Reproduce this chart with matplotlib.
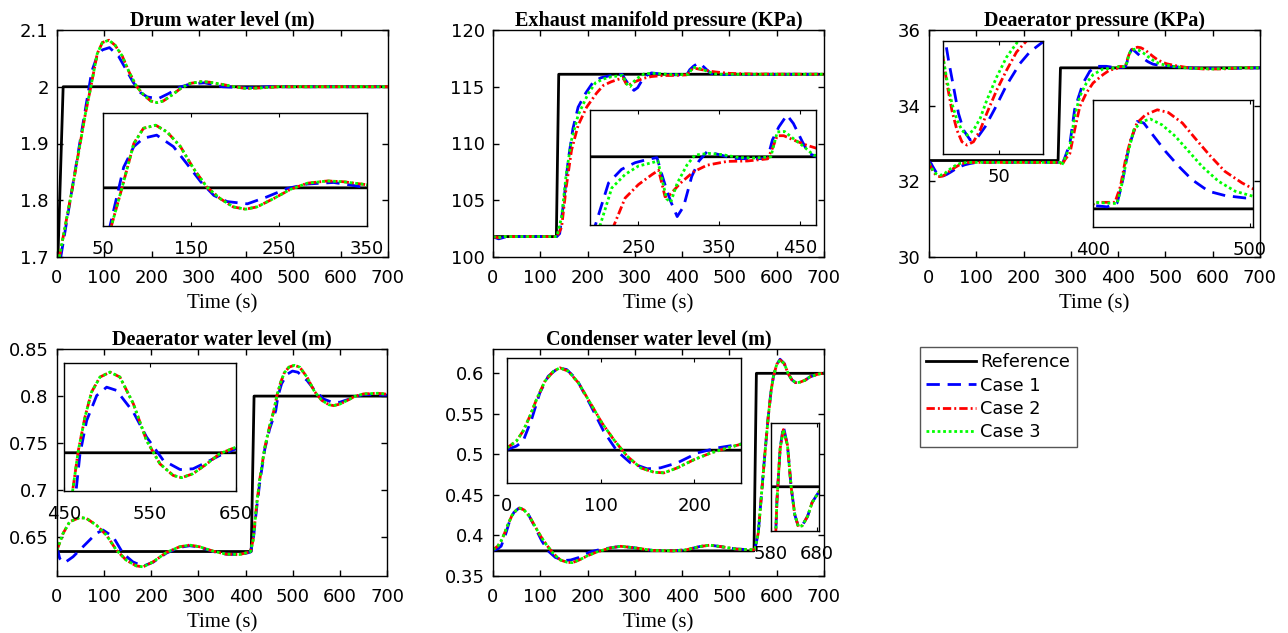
import matplotlib
matplotlib.use("Agg")
import matplotlib.pyplot as plt
from matplotlib.ticker import FuncFormatter

W, H = 1288, 633

# ---------------- data ----------------
# Drum water level (m)
drum_ref_t = [0, 2, 13, 700]
drum_ref = [1.7, 1.7, 2.0, 2.0]
drum_c1_t = [8, 30, 58, 73.5, 85, 96, 111, 130, 145, 161, 176, 191, 214, 236,
             259, 282, 312, 335, 350, 400, 450, 700]
drum_c1 = [1.70, 1.81, 1.95, 2.027, 2.054, 2.065, 2.069, 2.054, 2.032, 2.008,
           1.990, 1.982, 1.979, 1.988, 1.999, 2.005, 2.007, 2.003, 2.0, 1.998,
           2.0, 2.0]
drum_c2_t = [5, 30, 59.5, 71.6, 85, 96, 110, 123, 138, 153, 168, 183, 198, 212,
             225, 244, 263, 282, 305, 323, 350, 375, 400, 430, 470, 700]
drum_c2 = [1.70, 1.81, 1.95, 2.0, 2.058, 2.078, 2.082, 2.073, 2.054, 2.025,
           2.001, 1.986, 1.975, 1.972, 1.975, 1.986, 1.998, 2.006, 2.009,
           2.008, 2.004, 2.0, 1.997, 1.998, 2.0, 2.0]
drum_c3_t = drum_c2_t  # cases 2 and 3 lie on top of each other here
drum_c3 = drum_c2

# Exhaust manifold pressure (KPa)
exh_ref_t = [0, 134, 139, 700]
exh_ref = [101.8, 101.8, 116.1, 116.1]
exh_c1_t = [0, 5, 12, 25, 40, 135, 141, 150, 159, 169, 180, 196, 213, 229, 246,
            262, 273, 279, 285, 290, 298, 306, 316, 325, 335, 350, 368, 390,
            410, 416, 424, 434, 442, 453, 461, 471, 490, 520, 700]
exh_c1 = [101.8, 101.7, 101.6, 101.75, 101.8, 101.8, 102.06, 105.0, 108.5,
          111.3, 113.2, 114.44, 115.48, 115.8, 115.96, 116.04, 116.08, 115.68,
          115.31, 115.04, 114.68, 114.92, 115.63, 116.0, 116.22, 116.15,
          116.06, 116.05, 116.06, 116.5, 116.81, 117.09, 116.89, 116.46,
          116.18, 116.1, 116.08, 116.09, 116.1]
exh_c2_t = [0, 10, 25, 135, 145, 155, 166, 180, 198, 219, 233.5, 250, 267, 275,
            279, 283, 289, 301.8, 318, 335, 360, 385, 410, 416, 422, 430, 442,
            459, 471, 500, 550, 700]
exh_c2 = [101.8, 101.7, 101.8, 101.8, 102.6, 106.2, 109.4, 111.6, 113.2,
          114.44, 115.12, 115.44, 115.68, 115.78, 115.47, 115.15, 115.2,
          115.47, 115.74, 115.9, 115.99, 116.0, 116.05, 116.3, 116.6, 116.6,
          116.5, 116.37, 116.3, 116.18, 116.12, 116.1]
exh_c3_t = [0, 10, 25, 135, 145, 155, 166, 180, 198, 202, 217, 233.5, 250, 267,
            274, 280, 285, 290, 298, 310, 320, 337, 354, 375, 395, 414, 422,
            431, 442, 455, 467, 480, 520, 700]
exh_c3 = [101.8, 101.7, 101.8, 101.8, 103.5, 107.35, 110.3, 112.5, 114.1,
          114.44, 115.36, 115.68, 115.88, 115.96, 116.0, 115.5, 115.1, 115.02,
          115.47, 115.9, 116.14, 116.18, 116.15, 116.08, 116.07, 116.1,
          116.69, 116.7, 116.53, 116.34, 116.14, 116.1, 116.1, 116.1]

# Deaerator pressure (KPa)
dp_ref_t = [0, 273, 278, 700]
dp_ref = [32.55, 32.55, 35.0, 35.0]
dp_c1_t = [0, 4.4, 7.1, 11.3, 15.5, 19.8, 25.4, 31, 38, 46.4, 56.2, 67.4, 75.8,
           85.6, 100, 278, 281, 288, 298, 308, 315.5, 326, 340, 354, 375, 397,
           401, 409, 415.4, 418.6, 422.9, 428.2, 432.4, 438.8, 446.2, 454.7,
           463.1, 473.7, 484.3, 497, 503, 520, 560, 620, 700]
dp_c1 = [32.52, 32.474, 32.409, 32.32, 32.231, 32.175, 32.142, 32.147, 32.186,
         32.248, 32.326, 32.398, 32.437, 32.467, 32.5, 32.5, 32.43, 32.65,
         33.0, 33.9, 34.2, 34.6, 34.91, 35.04, 35.04, 35.0, 35.018, 35.011,
         35.033, 35.143, 35.344, 35.482, 35.473, 35.4, 35.317, 35.234, 35.161,
         35.097, 35.073, 35.06, 35.06, 35.03, 34.99, 34.98, 35.0]
dp_c2_t = [0, 2.4, 5.8, 10, 14.2, 18.4, 22.6, 28.2, 33.8, 39.4, 47.8, 56.2, 64.6,
           73, 85, 100, 278, 281, 288, 298, 308, 319, 333, 347, 368, 382, 397,
           401, 414, 417.5, 420.7, 424, 428, 433.4, 441, 448, 457, 465, 474,
           484, 495, 503, 520, 550, 580, 620, 660, 700]
dp_c2 = [32.48, 32.42, 32.33, 32.24, 32.175, 32.136, 32.125, 32.136, 32.175,
         32.231, 32.309, 32.376, 32.437, 32.474, 32.5, 32.5, 32.5, 32.43,
         32.58, 32.74, 33.36, 33.98, 34.34, 34.6, 34.82, 34.94, 34.98, 35.036,
         35.036, 35.124, 35.271, 35.381, 35.473, 35.518, 35.546, 35.531,
         35.473, 35.39, 35.299, 35.207, 35.143, 35.106, 35.06, 35.0, 34.97,
         34.97, 35.0, 35.0]
dp_c3_t = [0, 2.4, 5.8, 10, 14.2, 18.4, 22.6, 28.2, 33.8, 39.4, 47.8, 56.2, 66,
           80, 100, 278, 281, 288, 298, 308, 319, 333, 347, 368, 397, 401,
           415.4, 418.6, 421.8, 426, 431.3, 436.6, 444, 452.5, 461, 469.5, 480,
           490.7, 503.4, 520, 550, 600, 660, 700]
dp_c3 = [32.48, 32.42, 32.342, 32.264, 32.209, 32.175, 32.158, 32.175, 32.214,
         32.275, 32.353, 32.42, 32.474, 32.5, 32.5, 32.5, 32.43, 32.62, 32.92,
         33.72, 34.25, 34.6, 34.82, 34.97, 35.0, 35.036, 35.029, 35.143,
         35.289, 35.436, 35.482, 35.495, 35.463, 35.4, 35.317, 35.234, 35.152,
         35.097, 35.066, 35.03, 34.99, 34.97, 35.0, 35.0]

# Deaerator water level (m)
dl_ref_t = [0, 412, 418, 700]
dl_ref = [0.635, 0.635, 0.8, 0.8]
dl_c1_t = [0, 5.7, 16, 34, 55, 83.5, 97.6, 119, 140, 161, 182.5, 203.7, 232,
           260, 281.5, 302.7, 331, 359, 387.5, 410, 416, 423, 430, 440.6, 451,
           464, 468.6, 476.4, 488, 499.6, 511, 530.6, 546, 565.5, 585, 600, 616,
           631, 650, 670, 700]
dl_c1 = [0.64, 0.6276, 0.623, 0.6294, 0.640, 0.6543, 0.6578, 0.6507, 0.633,
         0.624, 0.6194, 0.6236, 0.6333, 0.6394, 0.6411, 0.6397, 0.635, 0.6322,
         0.6315, 0.6343, 0.6456, 0.679, 0.7077, 0.7432, 0.765, 0.7845, 0.7996,
         0.8131, 0.8232, 0.8266, 0.8253, 0.8165, 0.8064, 0.7969, 0.7932,
         0.7935, 0.7962, 0.7989, 0.8016, 0.8015, 0.801]
dl_c2_t = [0, 12.7, 27, 48, 62, 83.5, 104.7, 126, 147, 168, 182.5, 203.7, 232,
           260, 281.5, 302.7, 331, 359, 387.5, 410, 416, 423, 430, 440.6, 451,
           460, 466.7, 474.4, 482, 491.9, 503.5, 515, 530.6, 546, 561.6, 577,
           586.8, 600, 616, 631, 650, 680, 700]
dl_c2 = [0.6365, 0.654, 0.6667, 0.671, 0.6703, 0.663, 0.6525, 0.6365, 0.6258,
         0.6198, 0.6187, 0.624, 0.634, 0.640, 0.6418, 0.640, 0.6354, 0.6322,
         0.6318, 0.6347, 0.647, 0.6827, 0.7112, 0.745, 0.768, 0.7845, 0.801,
         0.8145, 0.8246, 0.8307, 0.8327, 0.8307, 0.8199, 0.805, 0.7955,
         0.7908, 0.7899, 0.7915, 0.7955, 0.7996, 0.8023, 0.803, 0.802]
dl_c3_t = dl_c2_t  # cases 2 and 3 coincide
dl_c3 = dl_c2

# Condenser water level (m)
cw_ref_t = [0, 552, 557, 700]
cw_ref = [0.381, 0.381, 0.6, 0.6]
cw_c1_t = [0, 10, 17.2, 26.2, 35.1, 44, 54.8, 63.8, 74.6, 88.9, 103.2, 117.6,
           131.9, 149.8, 164, 182, 203.6, 225, 251, 270, 296, 339, 381, 409,
           437.5, 459, 480, 515, 550, 554, 561, 568, 575, 582, 588, 593, 600,
           607, 616, 624, 632, 640, 648, 660, 670, 685, 700]
cw_c1 = [0.3814, 0.3836, 0.3868, 0.4006, 0.4177, 0.4283, 0.4337, 0.4326,
         0.4262, 0.4102, 0.3932, 0.3804, 0.3729, 0.3691, 0.3697, 0.3729,
         0.3793, 0.3825, 0.385, 0.3866, 0.385, 0.3815, 0.3811, 0.3823, 0.3864,
         0.388, 0.3864, 0.3832, 0.3823, 0.383, 0.403, 0.452, 0.501, 0.546,
         0.578, 0.596, 0.611, 0.6174, 0.612, 0.6, 0.592, 0.5885, 0.5888,
         0.5915, 0.5955, 0.5986, 0.6005]
cw_c2_t = [0, 10, 17.2, 24.4, 31.5, 40.5, 49.5, 56.6, 65.6, 76.3, 88.9, 101.4,
           114, 128.3, 142.7, 157, 167.7, 182, 200, 218, 235.8, 251, 270, 296,
           339, 381, 409, 437.5, 459, 480, 515, 550, 554, 561, 568, 575, 582,
           588, 593, 600, 607, 616, 624, 632, 640, 648, 660, 670, 685, 700]
cw_c2 = [0.3825, 0.3868, 0.3932, 0.4027, 0.4134, 0.4251, 0.4315, 0.4337,
         0.4315, 0.4241, 0.4113, 0.3985, 0.3878, 0.3772, 0.3697, 0.3669,
         0.3665, 0.3697, 0.375, 0.3793, 0.3825, 0.385, 0.3866, 0.385, 0.3815,
         0.3811, 0.3823, 0.3864, 0.388, 0.3864, 0.3832, 0.3823, 0.383, 0.403,
         0.452, 0.501, 0.546, 0.578, 0.596, 0.611, 0.6164, 0.612, 0.6, 0.592,
         0.5885, 0.5888, 0.5915, 0.5955, 0.5986, 0.6005]
cw_c3_t = cw_c2_t  # cases 2 and 3 coincide
cw_c3 = cw_c2

legend_labels = ["Reference", "Case 1", "Case 2", "Case 3"]

STYLES = [
    dict(color="black", lw=2.0, ls="-"),
    dict(color="#0000ff", lw=2.0, dashes=(4.8, 2.8)),
    dict(color="#ff0000", lw=2.0, dashes=(3.0, 1.1, 0.7, 1.1)),
    dict(color="#00ff00", lw=2.0, dashes=(1.0, 1.0)),
]


def px_rect(x0, y0, x1, y1):
    """Convert a pixel box (top-left origin) to figure fractions."""
    return [x0 / W, 1 - y1 / H, (x1 - x0) / W, (y1 - y0) / H]


def draw_series(ax, series):
    """Draw reference and the three cases on an axes."""
    lines = []
    for (t, v), style, label in zip(series, STYLES, legend_labels):
        ln, = ax.plot(t, v, label=label, **style)
        lines.append(ln)
    return lines


def main_panel(fig, box, title, series, ylim, yticks):
    ax = fig.add_axes(px_rect(*box))
    lines = draw_series(ax, series)
    ax.set_xlim(0, 700)
    ax.set_xticks(range(0, 701, 100))
    ax.set_ylim(*ylim)
    ax.set_yticks(yticks)
    ax.yaxis.set_major_formatter(FuncFormatter(lambda v, p: f"{v:g}"))
    ax.tick_params(direction="in", top=True, right=True, length=4, width=1,
                   labelsize=13)
    ax.tick_params(axis="x", pad=9)
    ax.tick_params(axis="y", pad=6)
    ax.set_title(title, fontfamily="Liberation Serif", fontweight="bold",
                 fontsize=14.5, pad=3)
    ax.set_xlabel("Time (s)", fontfamily="Liberation Serif", fontsize=15,
                  labelpad=5)
    for s in ax.spines.values():
        s.set_linewidth(1.0)
    return ax, lines


def inset(fig, box, series, xlim, ylim, xticks):
    ax = fig.add_axes(px_rect(*box))
    draw_series(ax, series)
    ax.set_xlim(*xlim)
    ax.set_ylim(*ylim)
    ax.set_xticks(xticks)
    ax.set_yticks([])
    ax.tick_params(axis="x", direction="in", top=True, length=3, width=0.8,
                   labelsize=13, pad=10)
    for s in ax.spines.values():
        s.set_linewidth(1.0)
    return ax


def main():
    plt.rcParams["font.family"] = ["DejaVu Sans"]
    fig = plt.figure(figsize=(W / 100, H / 100), dpi=100)

    drum = [(drum_ref_t, drum_ref), (drum_c1_t, drum_c1),
            (drum_c2_t, drum_c2), (drum_c3_t, drum_c3)]
    exh = [(exh_ref_t, exh_ref), (exh_c1_t, exh_c1),
           (exh_c2_t, exh_c2), (exh_c3_t, exh_c3)]
    dp = [(dp_ref_t, dp_ref), (dp_c1_t, dp_c1),
          (dp_c2_t, dp_c2), (dp_c3_t, dp_c3)]
    dl = [(dl_ref_t, dl_ref), (dl_c1_t, dl_c1),
          (dl_c2_t, dl_c2), (dl_c3_t, dl_c3)]
    cw = [(cw_ref_t, cw_ref), (cw_c1_t, cw_c1),
          (cw_c2_t, cw_c2), (cw_c3_t, cw_c3)]

    # top row
    ax1, lines = main_panel(fig, (57, 30, 388, 257), "Drum water level (m)",
                            drum, (1.7, 2.1), [1.7, 1.8, 1.9, 2.0, 2.1])
    inset(fig, (103, 113, 367, 226), drum, (50, 350), (1.95, 2.098),
          [50, 150, 250, 350])

    main_panel(fig, (493, 30, 824, 257), "Exhaust manifold pressure (KPa)",
               exh, (100, 120), [100, 105, 110, 115, 120])
    inset(fig, (590, 110, 816, 225), exh, (190, 470), (114.48, 117.21),
          [250, 350, 450])

    main_panel(fig, (929, 30, 1260, 257), "Deaerator pressure (KPa)",
               dp, (30, 36), [30, 32, 34, 36])
    inset(fig, (943, 41, 1043, 154), dp, (2.4, 87), (32.095, 32.474), [50])
    inset(fig, (1093, 100, 1253, 227), dp, (400, 502), (34.9, 35.6),
          [400, 500])

    # bottom row
    main_panel(fig, (57, 349, 387, 576), "Deaerator water level (m)",
               dl, (0.609, 0.85), [0.65, 0.7, 0.75, 0.8, 0.85])
    inset(fig, (64, 363, 236, 491), dl, (450, 650), (0.7845, 0.8364),
          [450, 550, 650])

    main_panel(fig, (493, 349, 824, 576), "Condenser water level (m)",
               cw, (0.35, 0.63), [0.35, 0.4, 0.45, 0.5, 0.55, 0.6])
    inset(fig, (507, 358, 741, 483), cw, (0, 250), (0.36, 0.44), [0, 100, 200])
    inset(fig, (771, 423, 819, 531), cw, (580, 685), (0.5873, 0.6183),
          [580, 680])

    fig.legend(lines, legend_labels, loc="upper left",
               bbox_to_anchor=(920 / W, 1 - 347 / H), fontsize=12.8,
               handlelength=2.8, handletextpad=0.25, labelspacing=0.3,
               borderpad=0.35, borderaxespad=0, frameon=True, fancybox=False,
               edgecolor="#555555", framealpha=1)

    fig.savefig("out.png", dpi=100)


if __name__ == "__main__":
    main()
